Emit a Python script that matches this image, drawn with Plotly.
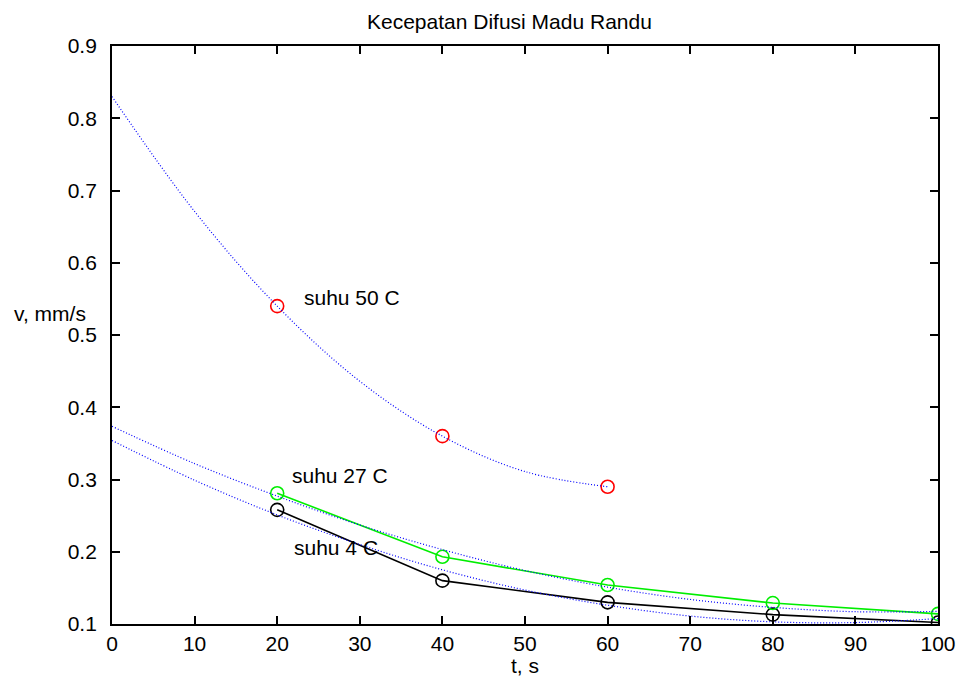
import plotly.graph_objects as go

# measured points
t_meas = [20, 40, 60, 80, 100]
v_4c = [0.258, 0.160, 0.130, 0.113, 0.102]
v_27c = [0.281, 0.193, 0.154, 0.129, 0.114]
t_50c = [20, 40, 60]
v_50c = [0.540, 0.360, 0.290]

# fitted curves
t_fit = [0, 10, 20, 30, 40, 50, 60, 70, 80, 90, 100]
fit_4c = [0.354, 0.299, 0.251, 0.210, 0.175, 0.147, 0.126, 0.111, 0.103, 0.102, 0.1075]
fit_27c = [0.3736, 0.322, 0.277, 0.237, 0.203, 0.174, 0.151, 0.134, 0.123, 0.117, 0.1175]
t_fit50 = [0, 10, 20, 30, 40, 50, 60]
fit_50c = [0.830, 0.671, 0.540, 0.436, 0.360, 0.311, 0.290]

labels = ["suhu 50 C", "suhu 27 C", "suhu 4 C"]
label_x = [23, 21.5, 21.8]
label_y = [0.552, 0.305, 0.206]

x_ticks = list(range(0, 101, 10))
y_ticks = [0.1, 0.2, 0.3, 0.4, 0.5, 0.6, 0.7, 0.8, 0.9]

FONT = "Liberation Sans, Arial, Helvetica, sans-serif"
FS = 21
BLUE = "#0000ff"
DOT = "1px,2px"

fig = go.Figure()

fig.add_trace(go.Scatter(x=t_meas, y=v_4c, mode="lines+markers",
                         line=dict(color="black", width=1.6),
                         marker=dict(symbol="circle-open", size=13, color="black",
                                     line=dict(width=1.6, color="black"))))
fig.add_trace(go.Scatter(x=t_meas, y=v_27c, mode="lines+markers",
                         line=dict(color="#00ee00", width=1.6),
                         marker=dict(symbol="circle-open", size=13, color="#00ee00",
                                     line=dict(width=1.6, color="#00ee00"))))
fig.add_trace(go.Scatter(x=t_50c, y=v_50c, mode="markers",
                         marker=dict(symbol="circle-open", size=13, color="#ff0000",
                                     line=dict(width=1.6, color="#ff0000"))))

for tx, fy in [(t_fit, fit_4c), (t_fit, fit_27c), (t_fit50, fit_50c)]:
    fig.add_trace(go.Scatter(x=tx, y=fy, mode="lines",
                             line=dict(color=BLUE, width=1.2, dash=DOT, shape="spline")))

for txt, lx, ly in zip(labels, label_x, label_y):
    fig.add_annotation(x=lx, y=ly, text=txt, showarrow=False, xanchor="left",
                       yanchor="middle", font=dict(size=FS, color="black", family=FONT))

# title
fig.add_annotation(xref="paper", yref="paper", x=0.4818, y=1.043, text="Kecepatan Difusi Madu Randu",
                   showarrow=False, xanchor="center", yanchor="middle",
                   font=dict(size=FS, color="black", family=FONT))
# y label
fig.add_annotation(xref="paper", yref="paper", x=-0.075, y=0.537, text="v, mm/s",
                   showarrow=False, xanchor="center", yanchor="middle",
                   font=dict(size=FS, color="black", family=FONT))
# x label
fig.add_annotation(xref="paper", yref="paper", x=0.5, y=-0.071, text="t, s",
                   showarrow=False, xanchor="center", yanchor="middle",
                   font=dict(size=FS, color="black", family=FONT))

axis_common = dict(showline=True, linecolor="black", linewidth=1.8, mirror="ticks",
                   ticks="inside", ticklen=8, tickwidth=1.5, tickcolor="black",
                   showgrid=False, zeroline=False, automargin=False,
                   tickfont=dict(size=FS, color="black", family=FONT))

fig.update_layout(
    width=956, height=682,
    margin=dict(l=112, r=18, t=46, b=58),
    paper_bgcolor="white", plot_bgcolor="white",
    showlegend=False,
    font=dict(family=FONT, size=FS, color="black"),
    xaxis=dict(range=[0, 100], tickvals=x_ticks, ticktext=[str(v) for v in x_ticks],
               ticklabelstandoff=0, ticklabeloverflow="allow", **axis_common),
    yaxis=dict(range=[0.1, 0.9], tickvals=y_ticks, ticktext=["%.1f" % v for v in y_ticks],
               ticklabelstandoff=9, **axis_common),
)

fig.write_html("out.html",
               config={"displayModeBar": False},
               post_script="document.body.style.margin='0';"
                           "document.documentElement.style.overflow='hidden';")
